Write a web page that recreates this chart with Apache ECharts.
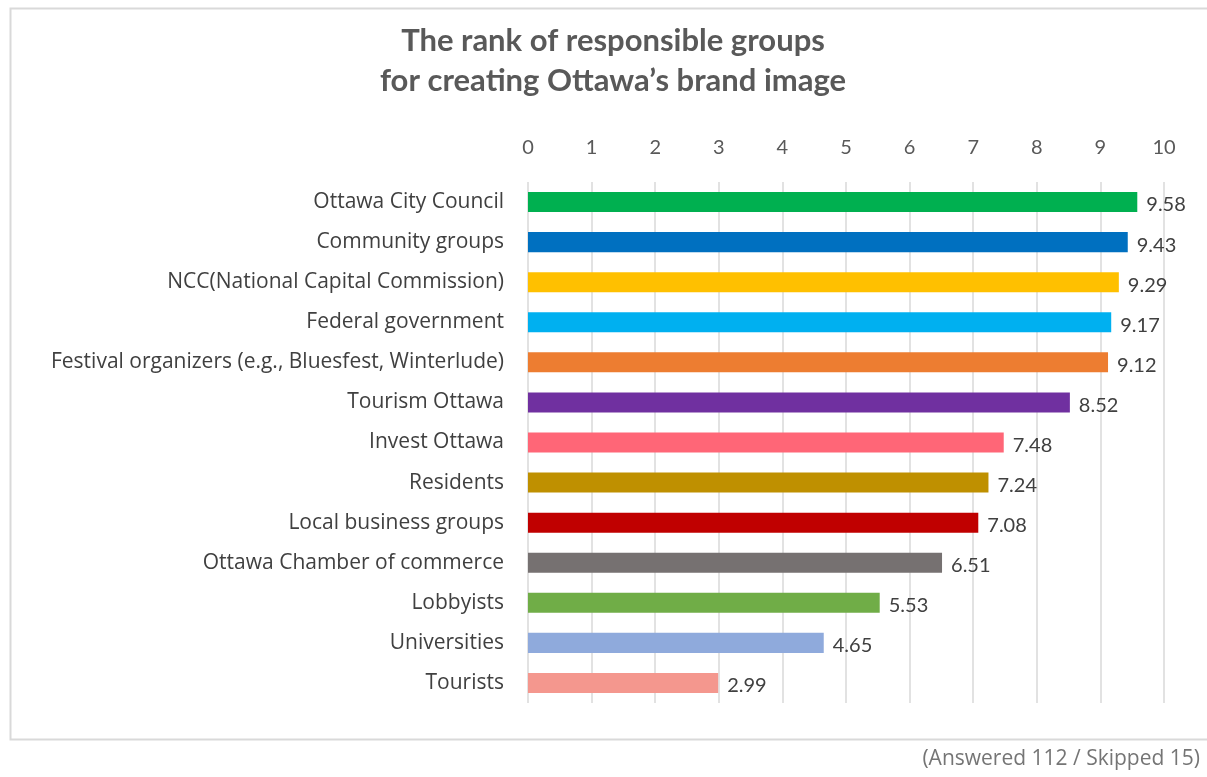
<!DOCTYPE html>
<html>
<head>
<meta charset="utf-8">
<script src="https://cdn.jsdelivr.net/npm/echarts@6/dist/echarts.min.js"></script>
<style>
html,body{margin:0;padding:0;background:#fff;}
#chart{width:1207px;height:777px;}
</style>
</head>
<body>
<div id="chart"></div>
<script>
const categories = [
  "Ottawa City Council",
  "Community groups",
  "NCC(National Capital Commission)",
  "Federal government",
  "Festival organizers (e.g., Bluesfest, Winterlude)",
  "Tourism Ottawa",
  "Invest Ottawa",
  "Residents",
  "Local business groups",
  "Ottawa Chamber of commerce",
  "Lobbyists",
  "Universities",
  "Tourists"
];
const values = [9.58, 9.43, 9.29, 9.17, 9.12, 8.52, 7.48, 7.24, 7.08, 6.51, 5.53, 4.65, 2.99];
const colors = ["#00b050", "#0070c0", "#ffc000", "#00b0f0", "#ed7d31", "#7030a0", "#ff6677", "#bf9000", "#c00000", "#767171", "#70ad47", "#8faadc", "#f4978e"];
const xTicks = [0, 1, 2, 3, 4, 5, 6, 7, 8, 9, 10];
const titleText = "The rank of responsible groups\nfor creating Ottawa\u2019s brand image";
const footnote = "(Answered 112 / Skipped 15)";

const FONT = "Lato";
const FONT2 = "Open Sans";
const chart = echarts.init(document.getElementById('chart'));
chart.setOption({
  animation: false,
  backgroundColor: '#fff',
  graphic: [
    {
      type: 'rect',
      left: 8, top: 6,
      shape: { width: 1220, height: 731 },
      style: { fill: 'none', stroke: '#d9d9d9', lineWidth: 2 },
      z: -1
    },
    {
      type: 'text',
      x: 613, y: 21,
      style: {
        text: titleText,
        textAlign: 'center',
        fontFamily: FONT,
        fontWeight: 'bold',
        fontSize: 31,
        lineHeight: 40,
        fill: '#595959'
      }
    },
    {
      type: 'text',
      right: 7, top: 749,
      style: { text: footnote, fontFamily: FONT2, fontSize: 21, fill: '#757575' }
    }
  ],
  grid: { left: 528, right: 43, top: 182, bottom: 74, containLabel: false },
  xAxis: {
    type: 'value',
    position: 'top',
    min: xTicks[0],
    max: xTicks[xTicks.length - 1],
    interval: 1,
    axisLine: { show: false },
    axisTick: { show: false },
    axisLabel: { color: '#595959', fontFamily: FONT, fontSize: 20, margin: 24 },
    splitLine: { show: true, lineStyle: { color: '#d9d9d9', width: 1.5 } }
  },
  yAxis: {
    type: 'category',
    inverse: true,
    data: categories,
    axisLine: { show: false },
    axisTick: { show: false },
    axisLabel: { color: '#404040', fontFamily: FONT2, fontSize: 21, margin: 24, padding: [3, 0, 0, 0] }
  },
  series: [{
    type: 'bar',
    data: values.map((v, i) => ({ value: v, itemStyle: { color: colors[i] } })),
    barCategoryGap: '50%',
    label: {
      show: true,
      position: 'right',
      distance: 9,
      color: '#404040',
      fontFamily: FONT,
      fontSize: 20,
      offset: [0, 3],
      formatter: p => p.value.toFixed(2)
    }
  }]
});
</script>
</body>
</html>
